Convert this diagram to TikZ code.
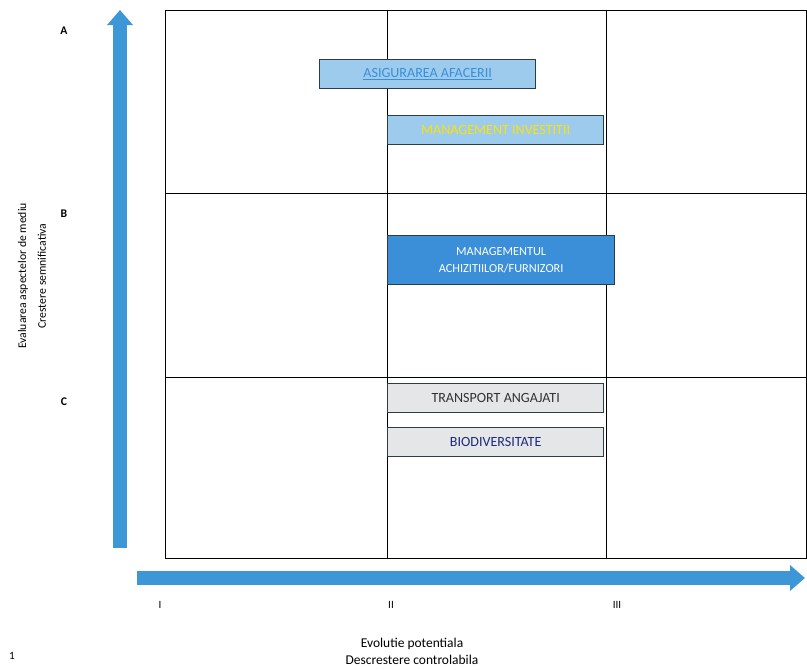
\documentclass[tikz,border=0pt]{standalone}
\usepackage{fontspec}
\setmainfont{Carlito}
\usetikzlibrary{arrows.meta}

\definecolor{axisblue}{HTML}{3D97D6}
\definecolor{paleblue}{HTML}{9CCBEE}
\definecolor{midblue}{HTML}{3B8FD8}
\definecolor{palegray}{HTML}{E4E6E8}
\definecolor{boxedge}{HTML}{2C3E44}

\begin{document}
\begin{tikzpicture}[x=0.03cm, y=-0.03cm,
	axis/.style={draw=axisblue, line width=0.4cm, arrows={-Triangle[length=0.45cm,width=0.75cm]}},
	riskbox/.style={draw=boxedge, line width=1.1pt, minimum height=0.87cm, inner sep=0pt, font=\fontsize{12}{13}\selectfont, align=center, anchor=north west},
	lbl/.style={font=\fontsize{9.5}{11}\selectfont}]
	\useasboundingbox (0,0) rectangle (807,670);

	% grid
	\draw[line width=0.6pt] (165,10) rectangle (806,558);
	\draw[line width=0.5pt] (387,10) -- (387,558);
	\draw[line width=0.5pt] (606,10) -- (606,558);
	\draw[line width=0.5pt] (165,193) -- (806,193);
	\draw[line width=0.5pt] (165,377) -- (806,377);

	% axes
	\coordinate (ylow) at (120,548);
	\coordinate (yhigh) at (120,10);
	\coordinate (xlow) at (137,578);
	\coordinate (xhigh) at (805,578);
	\draw[axis] (ylow) -- (yhigh);
	\draw[axis] (xlow) -- (xhigh);

	% row and column marks
	\node[lbl, font=\fontsize{10}{12}\bfseries] (rA) at (64,31) {A};
	\node[lbl, font=\fontsize{10}{12}\bfseries] (rB) at (64,214) {B};
	\node[lbl, font=\fontsize{10}{12}\bfseries] (rC) at (64,402) {C};
	\node[lbl] (c1) at (160,605) {I};
	\node[lbl] (c2) at (391,605) {II};
	\node[lbl] (c3) at (617,605) {III};

	% axis titles
	\node[lbl, rotate=90, align=center, font=\fontsize{10}{17}\selectfont] (ytitle) at (32,276)
		{Evaluarea aspectelor de mediu\\Crestere semnificativa};
	\node[lbl, align=center, font=\fontsize{11.5}{14.5}\selectfont] (xtitle) at (412,651)
		{Evolutie potentiala\\Descrestere controlabila};
	\node[lbl] (note) at (12,656) {1};

	% boxes
	\node[riskbox, fill=paleblue, text=midblue, minimum width=216*0.03cm] (asig) at (319,59)
		{\underline{ASIGURAREA AFACERII}};
	\node[riskbox, fill=paleblue, text=yellow!85!orange, minimum width=216*0.03cm] (invest) at (387,115)
		{MANAGEMENT INVESTITII};
	\node[riskbox, fill=midblue, text=white, minimum width=227*0.03cm, minimum height=1.47cm,
		font=\fontsize{10.5}{15}\selectfont] (achiz) at (387,235)
		{MANAGEMENTUL\\ACHIZITIILOR/FURNIZORI};
	\node[riskbox, fill=palegray, text=black!80, minimum width=216*0.03cm] (transp) at (387,383)
		{TRANSPORT ANGAJATI};
	\node[riskbox, fill=palegray, text=boxedge!70!blue, minimum width=216*0.03cm] (biodiv) at (387,427)
		{BIODIVERSITATE};
\end{tikzpicture}
\end{document}
